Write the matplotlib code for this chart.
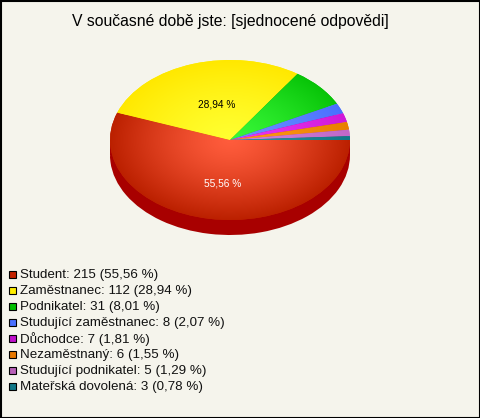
import numpy as np
import matplotlib
matplotlib.use("Agg")
import matplotlib.pyplot as plt
from matplotlib.colors import to_rgb
from matplotlib.patches import Rectangle

plt.rcParams['font.family'] = ['Liberation Sans', 'DejaVu Sans']

title = "V současné době jste: [sjednocené odpovědi]"
categories = ["Student", "Zaměstnanec", "Podnikatel", "Studující zaměstnanec",
              "Důchodce", "Nezaměstnaný", "Studující podnikatel", "Mateřská dovolená"]
values = [215, 112, 31, 8, 7, 6, 5, 3]
percents = ["55,56", "28,94", "8,01", "2,07", "1,81", "1,55", "1,29", "0,78"]
swatch_colors = ["#c42200", "#ffee00", "#00c000", "#4a70ff", "#c010cc", "#e87800", "#b860b8", "#107888"]
center_colors = ["#ff5c3c", "#ffff30", "#38f838", "#6a90ff", "#e838f0", "#ff9818", "#d080d8", "#3090a0"]
edge_colors = ["#bb2000", "#ffe800", "#08c408", "#4a70ff", "#d018d8", "#e88000", "#c068c8", "#107888"]
side_color = "#a80000"
bg = "#f5f4ec"

W, H = 480, 418
fig = plt.figure(figsize=(W / 100, H / 100), dpi=100, facecolor=bg)

# page overlay in pixel units
page = fig.add_axes([0, 0, 1, 1], zorder=0)
page.set_xlim(0, W)
page.set_ylim(H, 0)
page.axis("off")
page.add_patch(Rectangle((0.5, 0.5), W - 1, H - 1, fc=bg, ec="black", lw=1.5))
page.text(230, 21.5, title, ha="center", va="center", fontsize=11.3, color="black")

row_top, row_step = 274, 16
for i, (c, v, p, col) in enumerate(zip(categories, values, percents, swatch_colors)):
    y = row_top + i * row_step
    page.add_patch(Rectangle((9, y - 3.5), 7, 7, fc=col, ec="black", lw=0.8))
    page.text(20, y + 0.7, f"{c}: {v} ({p} %)", ha="left", va="center", fontsize=9.6, color="#111111")

# pie: rx 120 px, ry 80 px
ax = fig.add_axes([80 / W, 1 - 240 / H, 300 / W, 200 / H], zorder=1)
depth = 15 / 80
ax.pie(values, colors=[side_color] * len(values), startangle=0, counterclock=False,
       center=(0, -depth), radius=1)
ax.add_patch(Rectangle((-1, -depth), 2, depth, fc=side_color, ec="none"))
wedges, _ = ax.pie(values, colors=swatch_colors, startangle=0, counterclock=False, radius=1,
                   wedgeprops=dict(linewidth=0))

g = np.linspace(-1, 1, 500)
xx, yy = np.meshgrid(g, g)
rr = np.clip(np.hypot(xx, yy), 0, 1)[..., None] ** 1.3
for w, c0, c1 in zip(wedges, center_colors, edge_colors):
    img = np.array(to_rgb(c0)) * (1 - rr) + np.array(to_rgb(c1)) * rr
    im = ax.imshow(img, extent=(-1, 1, -1, 1), aspect="auto", zorder=3, origin="lower")
    im.set_clip_path(w)

ax.set_aspect("auto")
ax.set_xlim(-1.25, 1.25)
ax.set_ylim(-1.25, 1.25)
ax.patch.set_alpha(0)

ax.text(-0.065, -0.54, percents[0] + " %", color="white", ha="center", va="center", fontsize=7.3, zorder=5)
ax.text(-0.11, 0.44, percents[1] + " %", color="black", ha="center", va="center", fontsize=7.3, zorder=5)

fig.savefig("out.png", dpi=100, facecolor=bg)
